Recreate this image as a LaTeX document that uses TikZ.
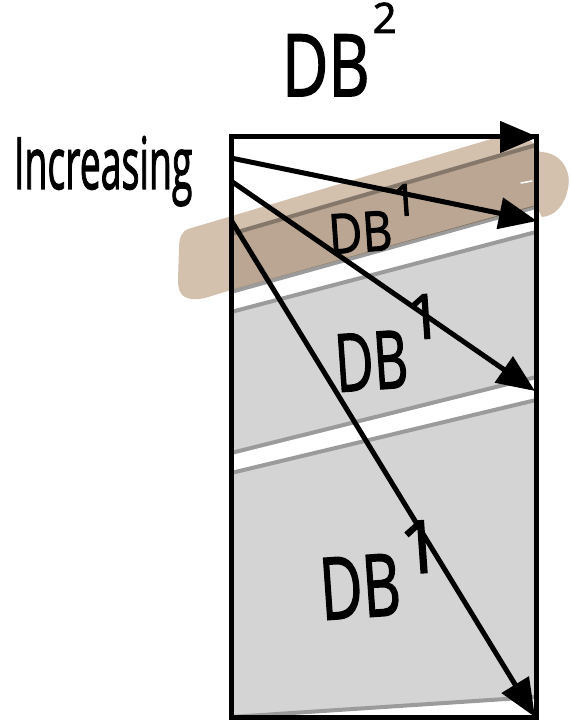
\documentclass[tikz,border=0pt]{standalone}
\usepackage{fontspec}
\setmainfont{Open Sans}
\newfontfamily\handfont[FakeBold=2]{Open Sans}
\usetikzlibrary{arrows.meta}

\definecolor{bandfill}{HTML}{D4D4D4}
\definecolor{bandedge}{HTML}{9B9B9B}
\definecolor{tanlight}{HTML}{D3C1AE}
\definecolor{tandark}{HTML}{BAA693}
\definecolor{tanedge}{HTML}{85786A}

\tikzset{
  band/.style={fill=bandfill, draw=bandedge, line width=4pt, line join=round},
  tanband/.style={fill=tandark, draw=tanedge, line width=4pt, line join=round},
  frame/.style={draw=black, line width=5pt, line join=miter},
  vec/.style={draw=black, line width=5pt, -{Triangle[length=38pt,width=31pt]}},
  hand/.style={inner sep=0pt, outer sep=0pt, text=black, font=\handfont},
  % brush stroke across the first band
  tanshape/.style={insert path={
    (188,229) -- (498,137) .. controls (518,132) and (533,138) .. (540,152)
    .. controls (560,152) and (572,170) .. (568,188)
    .. controls (565,205) and (555,216) .. (542,217)
    -- (536,206) -- (231,290) -- (205,298)
    .. controls (185,302) and (178,296) .. (178,280)
    -- (179,248) .. controls (179,236) and (183,231) .. (188,229) -- cycle}},
  bandone/.style={insert path={(231,234) -- (536,145) -- (536,207) -- (231,292) -- cycle}},
}

\begin{document}
\begin{tikzpicture}[x=1pt,y=-1pt]
\useasboundingbox (0,0) rectangle (570,722);
\fill[white] (0,0) rectangle (570,722);

% highlighter stroke
\path[fill=tanlight, tanshape];

% grey bands
\path[band, bandone];
\path[band] (231,312) -- (536,232) -- (536,377) -- (231,453) -- cycle;
\path[band] (231,473) -- (536,400) -- (536,697) -- (231,717) -- cycle;

% first band seen through the highlighter
\begin{scope}
  \path[clip, tanshape];
  \path[tanband, bandone];
\end{scope}
\draw[white, line width=1.5pt, line cap=round] (521,183) -- (532,181);

% frame
\draw[frame] (231,137) rectangle (536,717);

% arrows
\coordinate (o1) at (231,137);
\coordinate (t1) at (538,137);
\coordinate (o2) at (231,158);
\coordinate (t2) at (537,221);
\coordinate (o3) at (231,181);
\coordinate (t3) at (535,391);
\coordinate (o4) at (231,220);
\coordinate (t4) at (535,717);
\draw[vec] (o1) -- (t1);
\draw[vec] (o2) -- (t2);
\draw[vec] (o3) -- (t3);
\draw[vec] (o4) -- (t4);

% labels
\node[hand, anchor=base west] (inc) at (14,189)
  {\fontsize{72}{72}\selectfont\scalebox{0.52}[1]{Increasing}};
\node[hand, anchor=base west] (dbtop) at (282,96)
  {\fontsize{86}{86}\selectfont\scalebox{0.74}[1]{DB}\hspace{3pt}\raisebox{63pt}{\fontsize{42}{42}\selectfont 2}};
\node[hand, anchor=base west, rotate=4] (dbone) at (330,254)
  {\fontsize{55}{55}\selectfont\scalebox{0.84}[1]{DB}\hspace{2pt}\raisebox{33pt}{\fontsize{44}{44}\selectfont 1}};
\node[hand, anchor=base west, rotate=4] (dbtwo) at (337,392)
  {\fontsize{80}{80}\selectfont\scalebox{0.66}[1]{DB}\hspace{2pt}\raisebox{47pt}{\fontsize{62}{62}\selectfont 1}};
\node[hand, anchor=base west, rotate=4] (dbthree) at (322,620)
  {\fontsize{86}{86}\selectfont\scalebox{0.68}[1]{DB}\hspace{2pt}\raisebox{40pt}{\fontsize{73}{73}\selectfont 1}};
\end{tikzpicture}
\end{document}
